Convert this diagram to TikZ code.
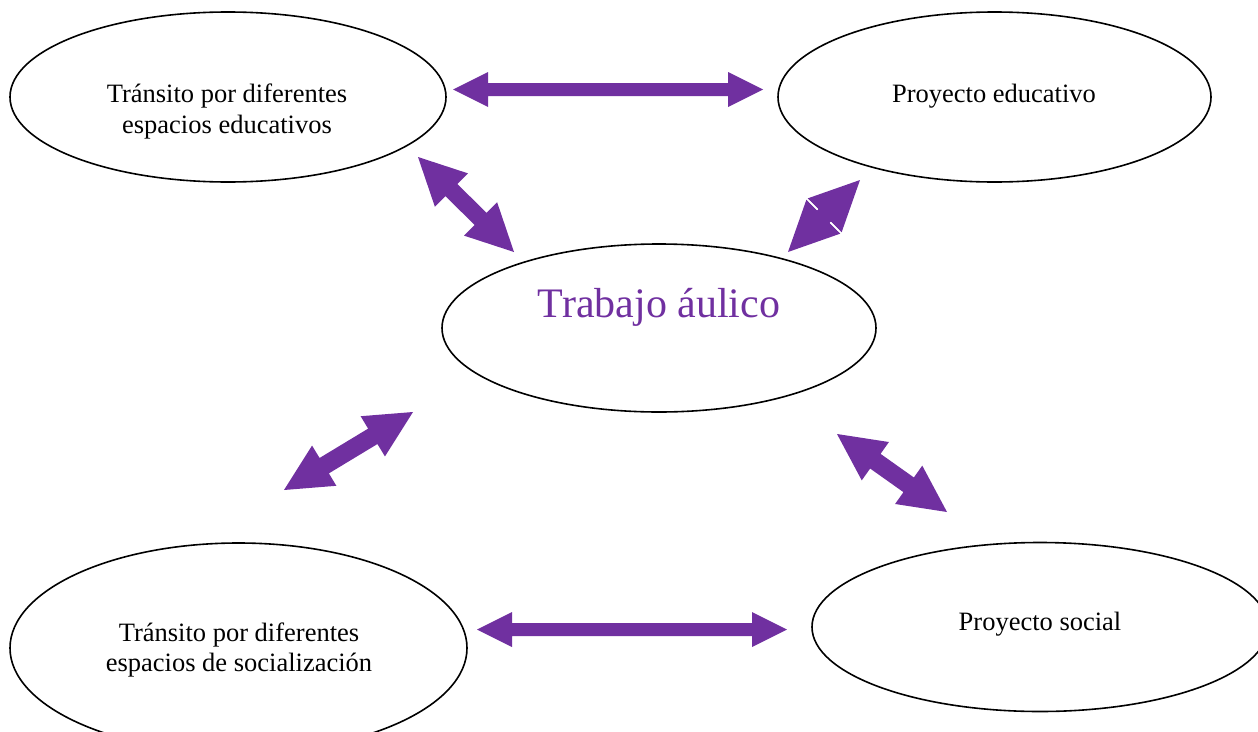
\documentclass[tikz,border=0pt]{standalone}
\usepackage{fontspec}
\setmainfont{Liberation Serif}
\usetikzlibrary{shapes.geometric,calc}
\definecolor{apurple}{HTML}{7030A0}
\newcommand\blockarr[5]{%
  \coordinate (tmpPa) at ($(#1)!#3!(#2)$);
  \coordinate (tmpPb) at ($(#2)!#3!(#1)$);
  \fill[apurple] (#1) -- ($(tmpPa)!#4!90:(#2)$) -- ($(tmpPa)!#5!90:(#2)$)
    -- ($(tmpPb)!#5!-90:(#1)$) -- ($(tmpPb)!#4!-90:(#1)$) -- (#2)
    -- ($(tmpPb)!#4!90:(#1)$) -- ($(tmpPb)!#5!90:(#1)$)
    -- ($(tmpPa)!#5!-90:(#2)$) -- ($(tmpPa)!#4!-90:(#2)$) -- cycle;
}
\tikzset{
  oval/.style={draw=black, line width=1.6pt, ellipse, inner sep=0pt},
  txt/.style={font=\fontsize{26.5}{31}\selectfont, anchor=base, inner sep=0pt},
}
\begin{document}
\begin{tikzpicture}[x=1pt, y=-1pt]
\useasboundingbox (0,0) rectangle (1258,731);
% ellipses
\node[oval, minimum width=436pt, minimum height=170pt] (e1) at (228,97) {};
\node[oval, minimum width=433pt, minimum height=170pt] (e2) at (994.5,97) {};
\node[oval, minimum width=434pt, minimum height=168pt] (e3) at (659,328) {};
\node[oval, minimum width=457pt, minimum height=210pt] (e4) at (238.5,648) {};
\node[oval, minimum width=456pt, minimum height=169pt] (e5) at (1040,627) {};
% texts
\node[txt] (t1a) at (227,102) {Tránsito por diferentes};
\node[txt] (t1b) at (227,133) {espacios educativos};
\node[txt] (t2) at (994,102) {Proyecto educativo};
\node[txt, font=\fontsize{42}{48}\selectfont, text=apurple] (t3) at (659,317) {Trabajo áulico};
\node[txt] (t4a) at (239,641) {Tránsito por diferentes};
\node[txt] (t4b) at (239,671) {espacios de socialización};
\node[txt] (t5) at (1040,630) {Proyecto social};
% arrow end points
\coordinate (topA) at (453,89.5);
\coordinate (topB) at (763,89.5);
\coordinate (botA) at (477,629.5);
\coordinate (botB) at (787,629.5);
\coordinate (ulA) at (418,157);
\coordinate (ulB) at (514,252);
\coordinate (urA) at (860,180);
\coordinate (urB) at (788,252);
\coordinate (llA) at (284,490);
\coordinate (llB) at (413,412);
\coordinate (lrA) at (837,434);
\coordinate (lrB) at (947,512);
% arrows
\blockarr{topA}{topB}{35pt}{17.5pt}{6.5pt}
\blockarr{botA}{botB}{35pt}{17.5pt}{6.5pt}
\blockarr{ulA}{ulB}{47pt}{23.5pt}{8.5pt}
\blockarr{urA}{urB}{50pt}{24pt}{9pt}
\blockarr{llA}{llB}{47pt}{23.5pt}{9pt}
\blockarr{lrA}{lrB}{47pt}{23.5pt}{9pt}
% white notch lines on short arrow
\coordinate (urM) at ($(urA)!0.5!(urB)$);
\draw[white, line width=1.3pt] ($(urM)!9pt!90:(urB)$) -- ($(urM)!21pt!90:(urB)$);
\draw[white, line width=1.3pt] ($(urM)!9pt!-90:(urB)$) -- ($(urM)!21pt!-90:(urB)$);
\end{tikzpicture}
\end{document}
